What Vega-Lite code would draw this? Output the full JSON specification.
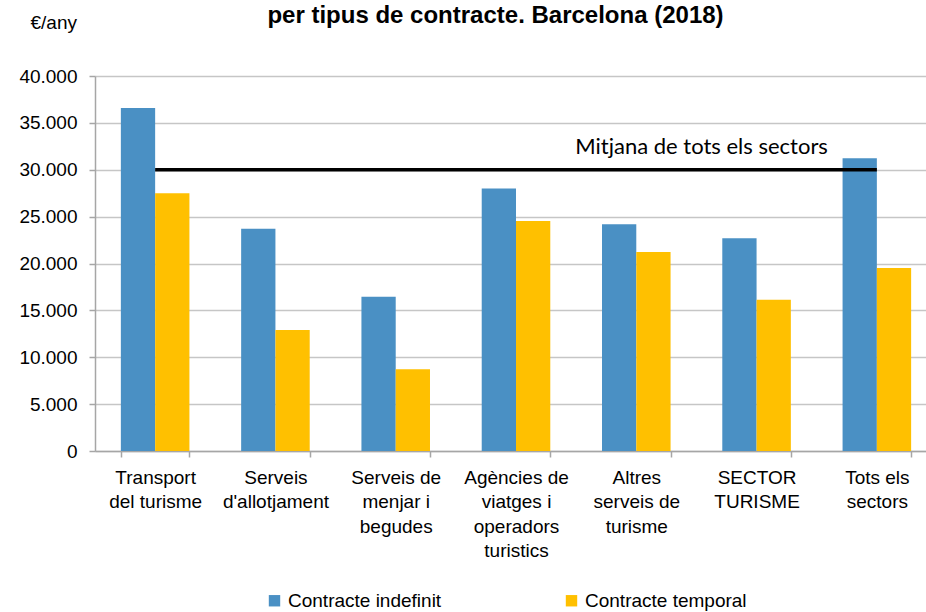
{
  "$schema": "https://vega.github.io/schema/vega-lite/v6.json",
  "autosize": {"type": "none"},
  "padding": {"left": 95, "top": 76, "right": 0, "bottom": 161},
  "width": 831,
  "height": 375,
  "background": "white",
  "title": {
    "text": "per tipus de contracte. Barcelona (2018)",
    "font": "Liberation Sans",
    "fontSize": 24,
    "fontWeight": "bold",
    "color": "#000000",
    "anchor": "middle",
    "offset": -15,
    "dx": -15
  },
  "datasets": {
    "salaris": [
      {"categoria": "Transport del turisme", "contracte": "Contracte indefinit", "valor": 36600},
      {"categoria": "Transport del turisme", "contracte": "Contracte temporal", "valor": 27500},
      {"categoria": "Serveis d'allotjament", "contracte": "Contracte indefinit", "valor": 23700},
      {"categoria": "Serveis d'allotjament", "contracte": "Contracte temporal", "valor": 12900},
      {"categoria": "Serveis de menjar i begudes", "contracte": "Contracte indefinit", "valor": 16450},
      {"categoria": "Serveis de menjar i begudes", "contracte": "Contracte temporal", "valor": 8730},
      {"categoria": "Agències de viatges i operadors turistics", "contracte": "Contracte indefinit", "valor": 28000},
      {"categoria": "Agències de viatges i operadors turistics", "contracte": "Contracte temporal", "valor": 24540},
      {"categoria": "Altres serveis de turisme", "contracte": "Contracte indefinit", "valor": 24190},
      {"categoria": "Altres serveis de turisme", "contracte": "Contracte temporal", "valor": 21230},
      {"categoria": "SECTOR TURISME", "contracte": "Contracte indefinit", "valor": 22690},
      {"categoria": "SECTOR TURISME", "contracte": "Contracte temporal", "valor": 16130},
      {"categoria": "Tots els sectors", "contracte": "Contracte indefinit", "valor": 31240},
      {"categoria": "Tots els sectors", "contracte": "Contracte temporal", "valor": 19520}
    ],
    "mitjana": [
      {"categoria": "Transport del turisme", "valor": 30000},
      {"categoria": "Tots els sectors", "valor": 30000}
    ],
    "etiqueta": [
      {"categoria": "SECTOR TURISME", "valor": 32400, "text": "Mitjana de tots els sectors"}
    ]
  },
  "layer": [
    {
      "data": {"name": "salaris"},
      "mark": {"type": "bar"},
      "encoding": {
        "x": {
          "field": "categoria",
          "type": "nominal",
          "scale": {
            "domain": ["Transport del turisme", "Serveis d'allotjament", "Serveis de menjar i begudes", "Agències de viatges i operadors turistics", "Altres serveis de turisme", "SECTOR TURISME", "Tots els sectors"],
            "range": [0, 842],
            "paddingInner": 0.43,
            "paddingOuter": 0.215
          },
          "axis": {
            "title": null,
            "labelAngle": 0,
            "labelFont": "Liberation Sans",
            "labelFontSize": 19,
            "labelColor": "#000000",
            "labelLineHeight": 24.5,
            "labelBaseline": "top",
            "labelPadding": 11,
            "labelLimit": 0,
            "tickBand": "extent",
            "tickSize": 6,
            "tickColor": "#a6a6a6",
            "tickWidth": 1.5,
            "domainColor": "#a6a6a6",
            "domainWidth": 1.5,
            "labelExpr": "{\"Transport del turisme\": [\"Transport\", \"del turisme\"], \"Serveis d'allotjament\": [\"Serveis\", \"d'allotjament\"], \"Serveis de menjar i begudes\": [\"Serveis de\", \"menjar i\", \"begudes\"], \"Agències de viatges i operadors turistics\": [\"Agències de\", \"viatges i\", \"operadors\", \"turistics\"], \"Altres serveis de turisme\": [\"Altres\", \"serveis de\", \"turisme\"], \"SECTOR TURISME\": [\"SECTOR\", \"TURISME\"], \"Tots els sectors\": [\"Tots els\", \"sectors\"]}[datum.label]"
          }
        },
        "xOffset": {
          "field": "contracte",
          "type": "nominal",
          "scale": {"paddingInner": 0, "paddingOuter": 0}
        },
        "y": {
          "field": "valor",
          "type": "quantitative",
          "scale": {"domain": [0, 40000], "nice": false},
          "axis": {
            "title": "€/any",
            "titleAngle": 0,
            "titleAlign": "left",
            "titleBaseline": "middle",
            "titleX": -65,
            "titleY": -54,
            "titleFont": "Liberation Sans",
            "titleFontSize": 19,
            "titleFontWeight": "normal",
            "titleColor": "#000000",
            "values": [0, 5000, 10000, 15000, 20000, 25000, 30000, 35000, 40000],
            "labelExpr": "replace(format(datum.value, ','), ',', '.')",
            "labelFont": "Liberation Sans",
            "labelFontSize": 19,
            "labelColor": "#000000",
            "labelPadding": 12,
            "tickSize": 6,
            "tickColor": "#a6a6a6",
            "tickWidth": 1.5,
            "domainColor": "#a6a6a6",
            "domainWidth": 1.5,
            "grid": true,
            "gridColor": "#c6c6c6",
            "gridWidth": 1.5
          }
        },
        "color": {
          "field": "contracte",
          "type": "nominal",
          "scale": {"domain": ["Contracte indefinit", "Contracte temporal"], "range": ["#4a90c4", "#ffc000"]},
          "legend": {
            "title": null,
            "orient": "none",
            "legendX": 170,
            "legendY": 515,
            "direction": "horizontal",
            "symbolType": "square",
            "symbolSize": 130,
            "symbolStrokeWidth": 0,
            "labelFont": "Liberation Sans",
            "labelFontSize": 19,
            "labelColor": "#000000",
            "labelOffset": 4,
            "labelLimit": 0,
            "columnPadding": 120
          }
        }
      }
    },
    {
      "data": {"name": "mitjana"},
      "mark": {"type": "line", "color": "#000000", "strokeWidth": 3.5},
      "encoding": {
        "x": {"field": "categoria", "type": "nominal"},
        "y": {"field": "valor", "type": "quantitative"}
      }
    },
    {
      "data": {"name": "etiqueta"},
      "mark": {"type": "text", "font": "Lato", "fontSize": 22, "color": "#000000", "align": "center", "baseline": "middle", "dx": -55},
      "encoding": {
        "x": {"field": "categoria", "type": "nominal"},
        "y": {"field": "valor", "type": "quantitative"},
        "text": {"field": "text"}
      }
    }
  ],
  "config": {"view": {"stroke": null}}
}
